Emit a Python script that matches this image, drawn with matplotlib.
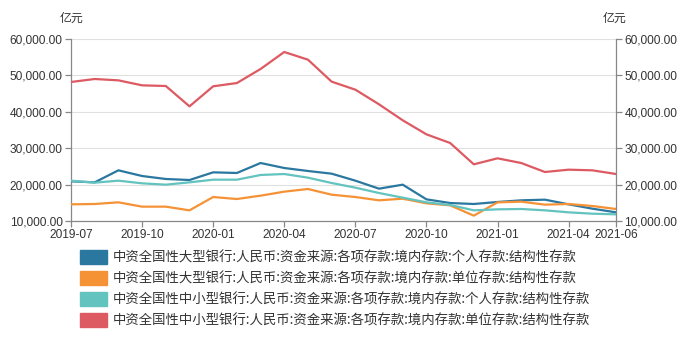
import matplotlib
matplotlib.use('Agg')
import matplotlib.pyplot as plt
import matplotlib.patches as mpatches
from matplotlib.ticker import FuncFormatter
import pandas as pd

months = pd.date_range('2019-07-01', '2021-06-01', freq='MS')

big_personal = [20900, 20620, 23920, 22360, 21540, 21260, 23370, 23190, 25930, 24560, 23740, 23000,
                21080, 18880, 19980, 15950, 14940, 14670, 15220, 15680, 15860, 14580, 13390, 12380]
big_unit = [14580, 14670, 15130, 13940, 13940, 12930, 16590, 16040, 16960, 18060, 18790, 17230,
            16590, 15680, 16130, 14850, 14300, 11470, 15130, 15310, 14490, 14670, 14120, 13300]
small_personal = [21080, 20530, 21080, 20350, 19980, 20620, 21350, 21350, 22640, 22910, 21900, 20440,
                  19160, 17690, 16410, 15130, 14400, 12930, 13200, 13300, 12930, 12380, 12010, 11830]
small_unit = [48190, 49010, 48640, 47270, 47090, 41500, 47000, 47900, 51760, 56430, 54320, 48280,
              46080, 42050, 37660, 33810, 31430, 25570, 27220, 25930, 23460, 24100, 23920, 22910]

labels = [
    '中资全国性大型银行:人民币:资金来源:各项存款:境内存款:个人存款:结构性存款',
    '中资全国性大型银行:人民币:资金来源:各项存款:境内存款:单位存款:结构性存款',
    '中资全国性中小型银行:人民币:资金来源:各项存款:境内存款:个人存款:结构性存款',
    '中资全国性中小型银行:人民币:资金来源:各项存款:境内存款:单位存款:结构性存款',
]
colors = ['#2a78a0', '#f59236', '#63c3bf', '#dd5a62']
tick_labels = ['2019-07', '2019-10', '2020-01', '2020-04', '2020-07', '2020-10', '2021-01', '2021-04', '2021-06']
yticks = [10000, 20000, 30000, 40000, 50000, 60000]

plt.rcParams['font.family'] = ['Liberation Sans', 'Noto Sans CJK SC']

fig = plt.figure(figsize=(7, 3.52), dpi=100)
ax = fig.add_axes([71/700, 1-221/352, 545/700, 182/352])

x = list(range(len(months)))
for vals, c in zip([big_personal, big_unit, small_personal, small_unit], colors):
    ax.plot(x, vals, color=c, lw=1.6, zorder=3)

ax.set_xlim(0, len(months)-1)
ax.set_ylim(10000, 60000)
pos = [list(months.strftime('%Y-%m')).index(t) for t in tick_labels]
ax.set_xticks(pos)
ax.set_xticklabels(tick_labels)
ax.set_yticks(yticks)
fmt = FuncFormatter(lambda v, p: f'{v:,.2f}')
ax.yaxis.set_major_formatter(fmt)
ax.grid(axis='y', color='#e0e0e0', lw=0.8)
ax.set_axisbelow(True)

ax2 = ax.twinx()
ax2.set_ylim(10000, 60000)
ax2.set_yticks(yticks)
ax2.yaxis.set_major_formatter(fmt)

for a in (ax, ax2):
    for s in a.spines.values():
        s.set_color('#888888')
        s.set_linewidth(0.9)
    a.spines['top'].set_visible(False)
    a.tick_params(colors='#888888', labelcolor='#333333', labelsize=8.6, length=4, width=0.9, pad=2)
ax.spines['right'].set_visible(False)
ax2.spines['left'].set_visible(False)
ax2.spines['bottom'].set_visible(False)

fig.text(72/700, 1-18/352, '亿元', ha='center', va='center', fontsize=8.6, color='#333333',
         family=['Noto Sans CJK SC', 'DejaVu Sans'])
fig.text(615/700, 1-18/352, '亿元', ha='center', va='center', fontsize=8.6, color='#333333',
         family=['Noto Sans CJK SC', 'DejaVu Sans'])

handles = [mpatches.Patch(color=c) for c in colors]
fig.legend(handles, labels, loc='upper left', bbox_to_anchor=(80/700, 1-250/352), frameon=False,
           handlelength=2.0, handleheight=1.2, handletextpad=0.45, labelspacing=0.5,
           borderaxespad=0, borderpad=0,
           prop={'family': ['Noto Sans CJK SC', 'DejaVu Sans'], 'size': 9.65})
for t in fig.legends[0].get_texts():
    t.set_color('#333333')

fig.savefig('out.png', dpi=100)
